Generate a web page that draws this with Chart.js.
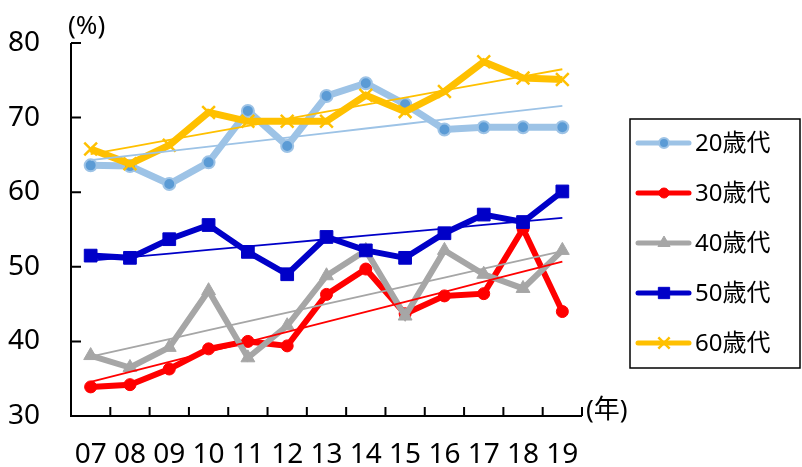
<!DOCTYPE html>
<html>
<head>
<meta charset="utf-8">
<script src="https://cdn.jsdelivr.net/npm/chart.js@4/dist/chart.umd.min.js"></script>
<style>
  html, body { margin: 0; padding: 0; background: #fff; }
  #wrap { width: 802px; height: 467px; position: relative; }
</style>
</head>
<body>
<div id="wrap"><canvas id="c" width="802" height="467"></canvas></div>
<script>
// Survey years and percentage by age group
const years = ['07','08','09','10','11','12','13','14','15','16','17','18','19'];
const seriesNames = ['20歳代','30歳代','40歳代','50歳代','60歳代'];
const age20 = [63.6,63.5,61.1,64.0,70.9,66.2,72.9,74.6,71.8,68.4,68.7,68.7,68.7];
const age30 = [33.9,34.2,36.3,39.0,40.0,39.4,46.3,49.7,43.7,46.1,46.4,55.1,44.0];
const age40 = [38.1,36.5,39.2,46.8,37.8,42.1,48.8,52.2,43.4,52.2,49.0,47.1,52.2];
const age50 = [51.5,51.2,53.7,55.6,52.0,49.0,54.0,52.2,51.2,54.5,57.0,56.0,60.1];
const age60 = [65.8,63.8,66.3,70.7,69.5,69.5,69.5,73.0,70.8,73.5,77.5,75.3,75.1];
const yTicks = [30,40,50,60,70,80];

const FONT = '"Noto Sans", "Noto Sans CJK JP", sans-serif';

// least-squares linear trend over the category index
function trend(values) {
  const n = values.length;
  let sx = 0, sy = 0, sxx = 0, sxy = 0;
  values.forEach((v, i) => { sx += i; sy += v; sxx += i * i; sxy += i * v; });
  const b = (n * sxy - sx * sy) / (n * sxx - sx * sx);
  const a = (sy - b * sx) / n;
  return values.map((_, i) => a + b * i);
}

const styles = [
  { line: '#9DC3E6', point: '#5B9BD5', pborder: '#9DC3E6', shape: 'circle',   r: 6, pbw: 2, lw: 7 },
  { line: '#FF0000', point: '#FF0000', pborder: '#FF0000', shape: 'circle',   r: 6, pbw: 1, lw: 6 },
  { line: '#A6A6A6', point: '#A6A6A6', pborder: '#A6A6A6', shape: 'triangle', r: 8, pbw: 1, lw: 6 },
  { line: '#0000C8', point: '#0000C8', pborder: '#0000C8', shape: 'rect',     r: 9, pbw: 1, lw: 6 },
  { line: '#FFC000', point: '#FFC000', pborder: '#FFC000', shape: 'crossRot', r: 9, pbw: 2.5, lw: 7 }
];
const allSeries = [age20, age30, age40, age50, age60];

const datasets = [];
allSeries.forEach((vals, i) => {
  const s = styles[i];
  datasets.push({
    label: seriesNames[i],
    data: vals,
    borderColor: s.line,
    borderWidth: s.lw,
    backgroundColor: s.point,
    pointBackgroundColor: s.point,
    pointBorderColor: s.pborder,
    pointBorderWidth: s.pbw,
    pointStyle: s.shape,
    pointRadius: s.r,
    pointHoverRadius: s.r,
    borderJoinStyle: 'miter',
    tension: 0,
    clip: false,
    order: 20 - i
  });
});
allSeries.forEach((vals, i) => {
  datasets.push({
    label: seriesNames[i] + ' trend',
    data: trend(vals),
    borderColor: styles[i].line,
    borderWidth: 1.8,
    pointRadius: 0,
    tension: 0,
    clip: false,
    order: 5 - i
  });
});

// axes, inward tick marks, unit captions and the framed legend
const overlay = {
  id: 'overlay',
  afterDraw(chart) {
    const ctx = chart.ctx;
    const y = chart.scales.y;
    const area = chart.chartArea;
    ctx.save();
    ctx.strokeStyle = '#000';
    ctx.lineWidth = 2;
    ctx.beginPath();
    ctx.moveTo(area.left, area.top);
    ctx.lineTo(area.left, area.bottom);
    ctx.lineTo(area.right, area.bottom);
    ctx.stroke();
    ctx.beginPath();
    yTicks.forEach(v => {
      const py = y.getPixelForValue(v);
      ctx.moveTo(area.left, py);
      ctx.lineTo(area.left + 10, py);
    });
    const step = (area.right - area.left) / years.length;
    for (let i = 1; i <= years.length; i++) {
      const px = area.left + i * step;
      ctx.moveTo(px, area.bottom);
      ctx.lineTo(px, area.bottom - 9);
    }
    ctx.stroke();

    ctx.fillStyle = '#000';
    ctx.font = '26px ' + FONT;
    ctx.textBaseline = 'middle';
    ctx.textAlign = 'left';
    ctx.fillText('(%)', 68, 27);
    ctx.fillText('(年)', 586, 411);

    // legend
    ctx.strokeStyle = '#000';
    ctx.lineWidth = 1.5;
    ctx.strokeRect(630, 119, 170, 249);
    ctx.font = '24px ' + FONT;
    for (let i = 0; i < seriesNames.length; i++) {
      const s = styles[i];
      const ly = 143 + i * 50;
      ctx.strokeStyle = s.line;
      ctx.lineWidth = 5;
      ctx.lineCap = 'round';
      ctx.beginPath();
      ctx.moveTo(638, ly);
      ctx.lineTo(689, ly);
      ctx.stroke();
      ctx.lineCap = 'butt';
      ctx.fillStyle = s.point;
      ctx.strokeStyle = s.pborder;
      ctx.lineWidth = s.pbw;
      Chart.helpers.drawPoint(ctx, { pointStyle: s.shape, radius: s.r - 1, rotation: 0, borderWidth: s.pbw }, 664, ly);
      ctx.fillStyle = '#000';
      ctx.fillText(seriesNames[i], 695, ly + 1);
    }
    ctx.restore();
  }
};

new Chart(document.getElementById('c'), {
  type: 'line',
  data: { labels: years, datasets },
  options: {
    responsive: false,
    animation: false,
    events: [],
    layout: { padding: { top: 43, right: 220, left: 8, bottom: 0 } },
    plugins: { legend: { display: false }, tooltip: { enabled: false } },
    scales: {
      x: {
        type: 'category',
        offset: true,
        grid: { display: false, drawTicks: false },
        border: { display: false },
        ticks: { color: '#000', font: { family: FONT, size: 28 }, padding: 22, maxRotation: 0, autoSkip: false },
        afterFit(s) { s.height = 51; }
      },
      y: {
        min: 30, max: 80,
        afterBuildTicks(s) { s.ticks = yTicks.map(v => ({ value: v })); },
        grid: { display: false, drawTicks: false },
        border: { display: false },
        ticks: { color: '#000', font: { family: FONT, size: 28 }, padding: 0, crossAlign: 'far' },
        afterFit(s) { s.width = 63; }
      }
    }
  },
  plugins: [overlay]
});
</script>
</body>
</html>
